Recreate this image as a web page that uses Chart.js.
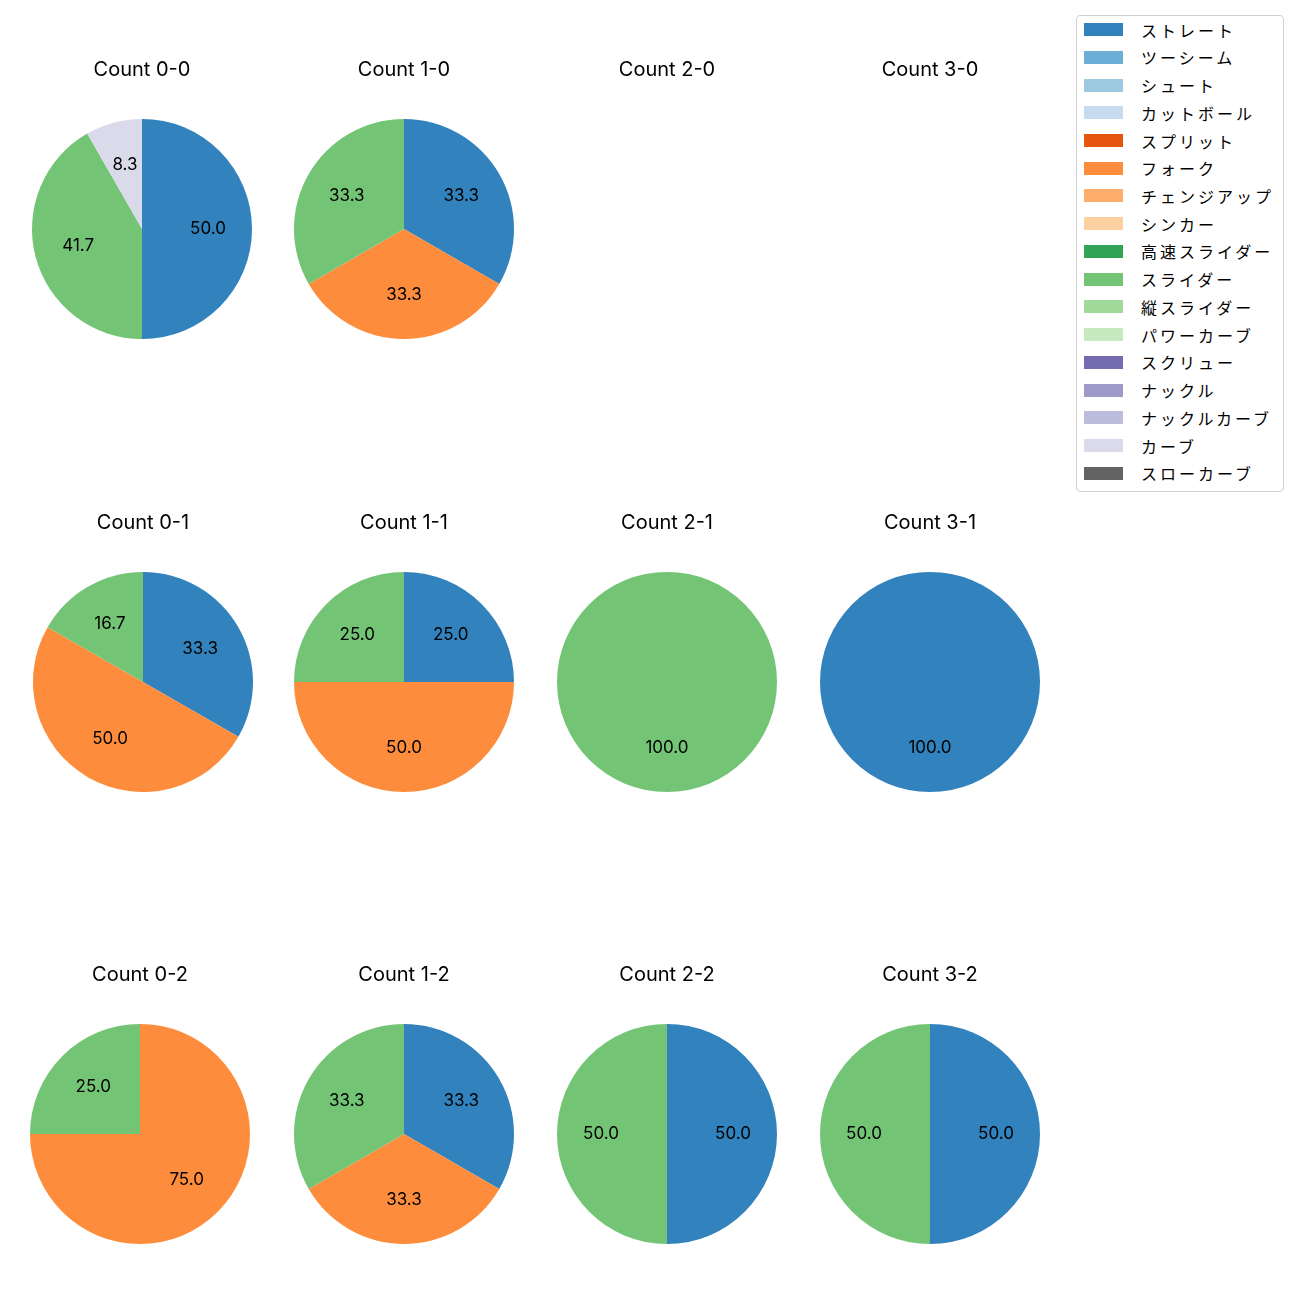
<!DOCTYPE html>
<html>
<head>
<meta charset="utf-8">
<script src="https://cdn.jsdelivr.net/npm/chart.js@4/dist/chart.umd.min.js"></script>
<style>
  body { margin: 0; background: #fff; }
  #wrap { position: relative; width: 1300px; height: 1300px; font-family: "Noto Sans CJK JP", "Noto Sans", sans-serif; }
  .pie { position: absolute; }
  #legend { position: absolute; left: 1076px; top: 15px; width: 208px; height: 477px;
    border: 1px solid #d0d0d0; border-radius: 4px; box-sizing: border-box; background: #fff; }
  .item { position: absolute; left: 7px; height: 20px; font-size: 16px; color: #000; }
  .sw { position: absolute; left: 0; top: 3.5px; width: 39px; height: 13px; }
  .lbl { position: absolute; left: 57px; top: 0; line-height: 20px; white-space: nowrap; letter-spacing: 3px; }
</style>
</head>
<body>
<div id="wrap"><div id="legend"></div></div>
<script>
// 球種（凡例の順）
const pitchTypes = ['ストレート','ツーシーム','シュート','カットボール','スプリット','フォーク','チェンジアップ','シンカー',
  '高速スライダー','スライダー','縦スライダー','パワーカーブ','スクリュー','ナックル','ナックルカーブ','カーブ','スローカーブ'];
const pitchColors = ['#3182bd','#6baed6','#9ecae1','#c6dbef','#e6550d','#fd8d3c','#fdae6b','#fdd0a2',
  '#31a354','#74c476','#a1d99b','#c7e9c0','#756bb1','#9e9ac8','#bcbddc','#dadaeb','#636363'];

// カウント（行: ストライク0,1,2 / 列: ボール0..3）
const countLabels = ['0-0','1-0','2-0','3-0','0-1','1-1','2-1','3-1','0-2','1-2','2-2','3-2'];

// 割合(%) — カウント順
const straightPct = [50.0, 33.3, 0, 0, 33.3, 25.0, 0, 100.0, 0, 33.3, 50.0, 50.0];
const forkPct     = [0, 33.3, 0, 0, 50.0, 50.0, 0, 0, 75.0, 33.3, 0, 0];
const sliderPct   = [41.7, 33.3, 0, 0, 16.7, 25.0, 100.0, 0, 25.0, 33.3, 50.0, 50.0];
const curvePct    = [8.3, 0, 0, 0, 0, 0, 0, 0, 0, 0, 0, 0];

const seriesByType = {
  'ストレート': straightPct,
  'フォーク': forkPct,
  'スライダー': sliderPct,
  'カーブ': curvePct
};

// 各サブプロットの円の中心
const centerX = [142, 404, 667, 930, 143, 404, 667, 930, 140, 404, 667, 930];
const rowY = [229, 682, 1134];
const R = 110;
const CW = 262, CH = 400;

const wrap = document.getElementById('wrap');

// 凡例
const legend = document.getElementById('legend');
pitchTypes.forEach((name, i) => {
  const it = document.createElement('div');
  it.className = 'item';
  it.style.top = (29.6 - 16 - 10 + i * 27.73) + 'px';
  it.innerHTML = '<div class="sw" style="background:' + pitchColors[i] + '"></div><div class="lbl">' + name + '</div>';
  legend.appendChild(it);
});

const labelPlugin = {
  id: 'pieText',
  afterDraw(chart, args, opts){
    const c = chart.ctx;
    const area = chart.chartArea;
    const cx = (area.left + area.right) / 2;
    const cy = (area.top + area.bottom) / 2;
    c.save();
    c.fillStyle = '#000';
    c.textAlign = 'center';
    c.textBaseline = 'middle';
    c.font = '20px Inter, "Noto Sans CJK JP", sans-serif';
    c.fillText(opts.title, cx, cy - 159);
    c.font = '17px Inter, "Noto Sans CJK JP", sans-serif';
    const meta = chart.getDatasetMeta(0);
    const data = chart.data.datasets[0].data;
    const total = data.reduce((a, b) => a + b, 0);
    meta.data.forEach((arc, i) => {
      if (!data[i]) return;
      const p = arc.getProps(['x','y','startAngle','endAngle','outerRadius'], true);
      const mid = (p.startAngle + p.endAngle) / 2;
      const r = p.outerRadius * 0.6;
      const txt = (data[i] / total * 100).toFixed(1);
      c.fillText(txt, p.x + Math.cos(mid) * r, p.y + Math.sin(mid) * r - 0.5);
    });
    c.restore();
  }
};

countLabels.forEach((cnt, k) => {
  const cx = centerX[k], cy = rowY[Math.floor(k / 4)];
  const cv = document.createElement('canvas');
  cv.className = 'pie';
  cv.width = CW; cv.height = CH;
  cv.style.width = CW + 'px'; cv.style.height = CH + 'px';
  cv.style.left = (cx - CW / 2) + 'px';
  cv.style.top = (cy - CH / 2) + 'px';
  wrap.appendChild(cv);

  const labels = [], values = [], colors = [];
  pitchTypes.forEach((name, i) => {
    const s = seriesByType[name];
    if (s && s[k] > 0) { labels.push(name); values.push(s[k]); colors.push(pitchColors[i]); }
  });

  const padX = (CW - 2 * R) / 2, padY = (CH - 2 * R) / 2;
  new Chart(cv.getContext('2d'), {
    type: 'pie',
    data: { labels, datasets: [{ data: values, backgroundColor: colors, borderWidth: 0 }] },
    options: {
      responsive: false,
      animation: false,
      layout: { padding: { left: padX, right: padX, top: padY, bottom: padY } },
      plugins: {
        legend: { display: false },
        tooltip: { enabled: false },
        pieText: { title: 'Count ' + cnt }
      }
    },
    plugins: [labelPlugin]
  });
});
</script>
</body>
</html>
